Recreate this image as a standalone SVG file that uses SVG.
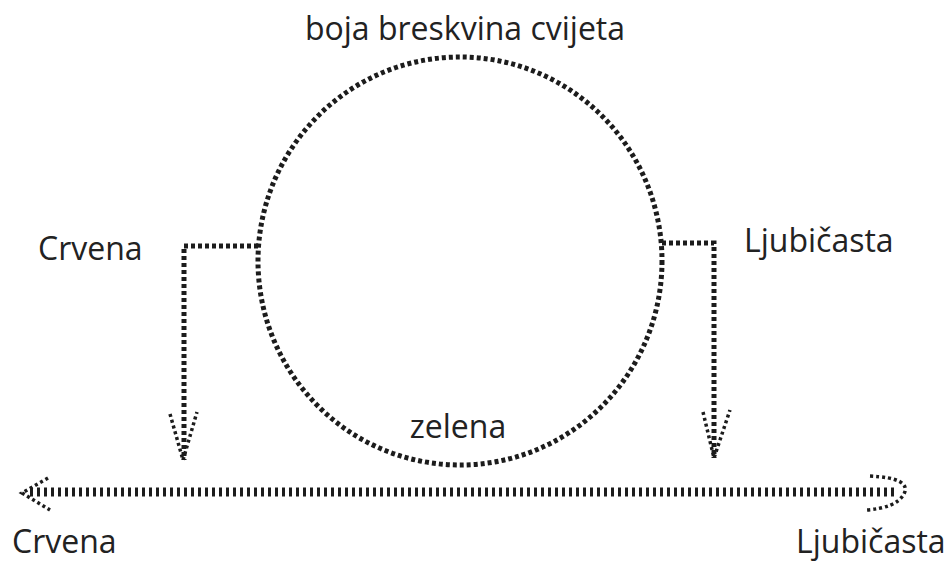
<svg xmlns="http://www.w3.org/2000/svg" width="951" height="563" viewBox="0 0 951 563">
<style>
.t{font-family:"Open Sans","Noto Sans","Liberation Sans",sans-serif;font-size:32px;fill:#222}
.h{fill:none;stroke:#1c1c1c;stroke-width:5;stroke-dasharray:4 3;stroke-linecap:butt}
.hs{fill:none;stroke:#1c1c1c;stroke-width:3.5;stroke-dasharray:3 3}
</style>
<rect width="951" height="563" fill="#fff"/>
<g id="circle">
<ellipse class="h" cx="460" cy="261" rx="202" ry="204"/>
<text class="t" x="465" y="40" text-anchor="middle">boja breskvina cvijeta</text>
<text class="t" x="458" y="438" text-anchor="middle">zelena</text>
</g>
<g id="left-label"><text class="t" x="38" y="260">Crvena</text></g>
<g id="right-label"><text class="t" x="744" y="252">Ljubičasta</text></g>
<g id="bottom-left"><text class="t" x="12" y="553">Crvena</text></g>
<g id="bottom-right"><text class="t" x="796" y="553">Ljubičasta</text></g>
<g id="connectors">
<path class="h" d="M258 246 H184 V460"/>
<path class="hs" d="M170 414 L183 460 L197 412"/>
<path class="h" d="M662 243 H714 V458"/>
<path class="hs" d="M703 412 L714 458 L730 410"/>
<path d="M30 492 H895" fill="none" stroke="#1c1c1c" stroke-width="9" stroke-dasharray="3 4"/>
<path class="hs" d="M48 478 L22 493 L50 510"/>
<path class="hs" d="M870 476 Q912 478 904 494 Q896 508 866 510"/>
</g>
</svg>
